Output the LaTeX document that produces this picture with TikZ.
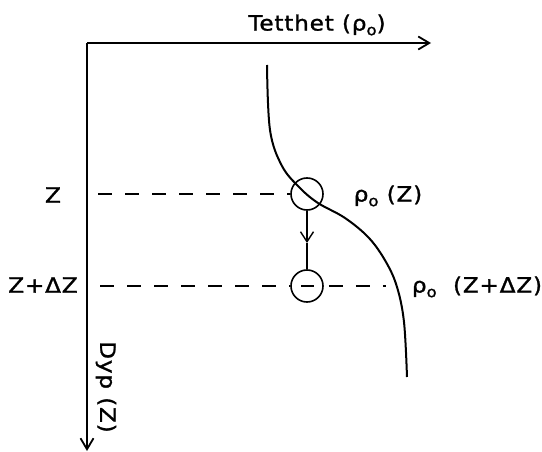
\documentclass[tikz,border=0pt]{standalone}
\usepackage{fontspec}
\setmainfont{DejaVu Sans}[FakeStretch=1.1,LetterSpace=4,FakeBold=1.3]
\usetikzlibrary{arrows.meta}
\newcommand{\rhoo}{ρ\raisebox{-0.22em}{\fontsize{15}{15}\selectfont o}}
\tikzset{
  lbl/.style={inner sep=0pt,font=\fontsize{21}{22}\selectfont},
  axis/.style={line width=2pt,-{Straight Barb[length=11pt,width=13pt,line width=1.8pt]}},
  dsh/.style={line width=1.6pt,dash pattern=on 14pt off 13pt},
  parcel/.style={circle,draw,line width=1.6pt,minimum size=32pt,inner sep=0pt},
  curve/.style={line width=2pt},
}
\begin{document}
\begin{tikzpicture}[x=1pt,y=-1pt]
\useasboundingbox (0,0) rectangle (542,452);
\coordinate (O) at (87,43);
\coordinate (xe) at (431,43);
\coordinate (ye) at (87,451);
\draw[axis] (O) -- (xe);
\draw[axis] (O) -- (ye);
\node[lbl] (tt) at (317,25) {Tetthet (\rhoo)};
\node[lbl,rotate=-90] (dyp) at (106,387) {Dyp (Z)};
\node[lbl] (z1) at (53,195) {Z};
\node[lbl] (z2) at (43,285) {Z+ΔZ};
\node[parcel] (c1) at (307,194) {};
\node[parcel] (c2) at (307,286) {};
\node[lbl] (r1) at (388,196) {\rhoo\ (Z)};
\node[lbl] (r2) at (477,287) {\rhoo\ \ (Z+ΔZ)};
\coordinate (d1a) at (98,194);
\coordinate (d2a) at (100,286);
\coordinate (d2b) at (386,286);
\draw[dsh] (d1a) -- (c1.west);
\draw[dsh] (d2a) -- (c2.west);
\draw[dsh,dash phase=-5pt] (c2.east) -- (d2b);
\draw[line width=1.3pt] ([xshift=-6pt]c2.center) -- ([xshift=7pt]c2.center);
\coordinate (mid) at (307,243);
\draw[line width=1.5pt,-{Straight Barb[length=10pt,width=13pt,line width=1.4pt]}] (c1.south) -- (mid);
\draw[line width=1.5pt] (mid) -- (c2.north);
\draw[curve] plot[smooth,tension=0.6] coordinates {(267,65) (270,130) (282,166) (300,188) (318,203) (345,218) (369,238) (386,262) (397,287) (404,322) (407,377)};
\end{tikzpicture}
\end{document}
